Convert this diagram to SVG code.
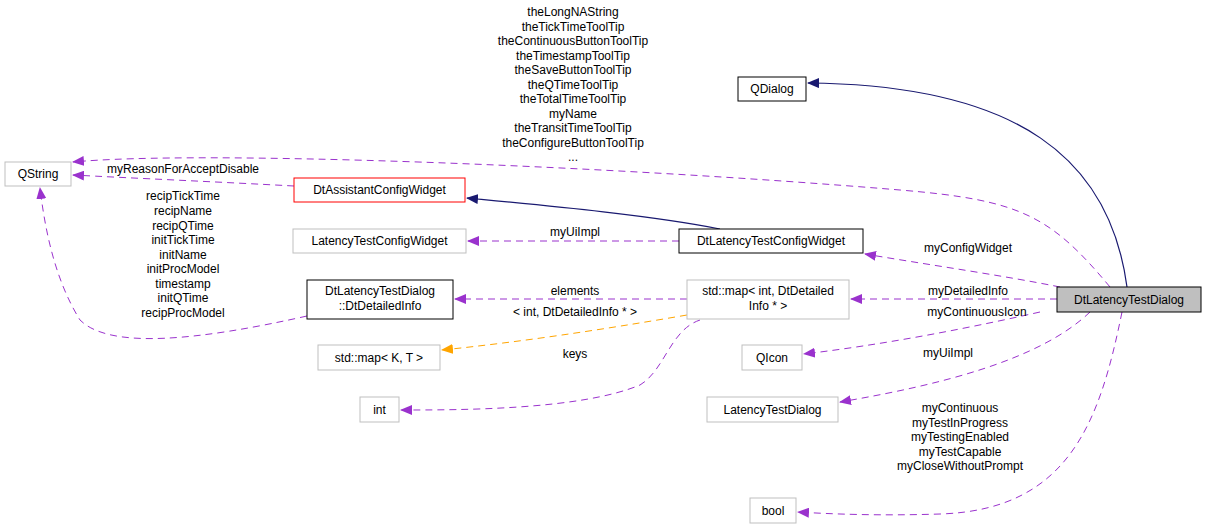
<svg xmlns="http://www.w3.org/2000/svg" width="1208" height="529" viewBox="0 0 1208 529">
<defs>
<style>
text{font-family:"Liberation Sans",Arial,sans-serif;font-size:12px;fill:#000;text-anchor:middle}
.g{fill:#fff;stroke:#bfbfbf;stroke-width:1}
.b{fill:#fff;stroke:#000;stroke-width:1}
.r{fill:#fff;stroke:#ff0000;stroke-width:1}
.p{fill:none;stroke:#9a32cd;stroke-dasharray:7,5;stroke-width:1}
.o{fill:none;stroke:#ffa500;stroke-dasharray:7,5;stroke-width:1}
.n{fill:none;stroke:#191970;stroke-width:1.2}
</style>
<marker id="mp" markerWidth="12" markerHeight="10" refX="11" refY="5" orient="auto" markerUnits="userSpaceOnUse"><path d="M0,0L12,5L0,10z" fill="#9a32cd"/></marker>
<marker id="mo" markerWidth="12" markerHeight="10" refX="11" refY="5" orient="auto" markerUnits="userSpaceOnUse"><path d="M0,0L12,5L0,10z" fill="#ffa500"/></marker>
<marker id="mn" markerWidth="12" markerHeight="10" refX="11" refY="5" orient="auto" markerUnits="userSpaceOnUse"><path d="M0,0L12,5L0,10z" fill="#191970"/></marker>
</defs>
<rect width="1208" height="529" fill="#fff"/>
<g id="edges">
<path class="n" d="M1127,287 C1110,160 1020,85 808,83" marker-end="url(#mn)"/>
<path class="n" d="M720,229 C650,215 540,205 467,198" marker-end="url(#mn)"/>
<path class="p" d="M1110,287 C1050,215 1020,200 900,190 C600,165 200,150 73,162" marker-end="url(#mp)"/>
<path class="p" d="M294,186 C220,182 130,178 73,175" marker-end="url(#mp)"/>
<path class="p" d="M307,316 C200,340 110,350 80,320 C55,280 45,230 40,188" marker-end="url(#mp)"/>
<path class="p" d="M679,241 L468,241" marker-end="url(#mp)"/>
<path class="p" d="M1060,287 C1000,275 930,265 865,254" marker-end="url(#mp)"/>
<path class="p" d="M1057,299 L851,299" marker-end="url(#mp)"/>
<path class="p" d="M687,299 L455,299" marker-end="url(#mp)"/>
<path class="o" d="M687,315 C600,330 520,342 442,350" marker-end="url(#mo)"/>
<path class="p" d="M700,320 C670,330 665,370 640,385 C580,410 460,410 401,410" marker-end="url(#mp)"/>
<path class="p" d="M1040,312 C960,330 880,345 804,354" marker-end="url(#mp)"/>
<path class="p" d="M1090,312 C1040,360 940,385 840,402" marker-end="url(#mp)"/>
<path class="p" d="M1122,312 C1100,420 1070,510 940,514 C880,516 830,514 798,512" marker-end="url(#mp)"/>
</g>
<g id="labels">
<text x="573" y="16">theLongNAString</text>
<text x="573" y="30.5">theTickTimeToolTip</text>
<text x="573" y="45">theContinuousButtonToolTip</text>
<text x="573" y="59.5">theTimestampToolTip</text>
<text x="573" y="74">theSaveButtonToolTip</text>
<text x="573" y="88.5">theQTimeToolTip</text>
<text x="573" y="103">theTotalTimeToolTip</text>
<text x="573" y="117.5">myName</text>
<text x="573" y="132">theTransitTimeToolTip</text>
<text x="573" y="146.5">theConfigureButtonToolTip</text>
<text x="573" y="161">...</text>
<text x="183" y="173">myReasonForAcceptDisable</text>
<text x="183" y="200">recipTickTime</text>
<text x="183" y="215">recipName</text>
<text x="183" y="229.5">recipQTime</text>
<text x="183" y="244">initTickTime</text>
<text x="183" y="258.5">initName</text>
<text x="183" y="273">initProcModel</text>
<text x="183" y="287.5">timestamp</text>
<text x="183" y="302">initQTime</text>
<text x="183" y="316.5">recipProcModel</text>
<text x="575" y="236">myUiImpl</text>
<text x="968" y="252">myConfigWidget</text>
<text x="968" y="295">myDetailedInfo</text>
<text x="575" y="295">elements</text>
<text x="575" y="316">&lt; int, DtDetailedInfo * &gt;</text>
<text x="575" y="358">keys</text>
<text x="977" y="316">myContinuousIcon</text>
<text x="948" y="357">myUiImpl</text>
<text x="960" y="412">myContinuous</text>
<text x="960" y="426.5">myTestInProgress</text>
<text x="960" y="441">myTestingEnabled</text>
<text x="960" y="455.5">myTestCapable</text>
<text x="960" y="470">myCloseWithoutPrompt</text>
</g>
<g id="QString"><rect class="g" x="5" y="162" width="66" height="24"/><text x="38" y="178">QString</text></g>
<g id="QDialog"><rect class="b" x="738" y="77" width="68" height="24"/><text x="772" y="93">QDialog</text></g>
<g id="DtAssistantConfigWidget"><rect class="r" x="294" y="178" width="171" height="24"/><text x="379.5" y="194">DtAssistantConfigWidget</text></g>
<g id="LatencyTestConfigWidget"><rect class="g" x="293" y="229" width="173" height="24"/><text x="379.5" y="245">LatencyTestConfigWidget</text></g>
<g id="DtLatencyTestConfigWidget"><rect class="b" x="679" y="229" width="184" height="24"/><text x="771" y="245">DtLatencyTestConfigWidget</text></g>
<g id="DtDetailedInfo"><rect class="b" x="307" y="280" width="146" height="39"/><text x="380" y="295">DtLatencyTestDialog</text><text x="380" y="310">::DtDetailedInfo</text></g>
<g id="stdmapInt"><rect class="g" x="687" y="280" width="162" height="39"/><text x="768" y="295">std::map&lt; int, DtDetailed</text><text x="768" y="310">Info * &gt;</text></g>
<g id="stdmapKT"><rect class="g" x="318" y="345" width="122" height="25"/><text x="379" y="362">std::map&lt; K, T &gt;</text></g>
<g id="int"><rect class="g" x="360" y="397" width="39" height="25"/><text x="379.5" y="414">int</text></g>
<g id="QIcon"><rect class="g" x="742" y="345" width="60" height="25"/><text x="772" y="362">QIcon</text></g>
<g id="LatencyTestDialog"><rect class="g" x="707" y="397" width="131" height="25"/><text x="772.5" y="414">LatencyTestDialog</text></g>
<g id="bool"><rect class="g" x="750" y="498" width="46" height="25"/><text x="773" y="515">bool</text></g>
<g id="DtLatencyTestDialog"><rect x="1057" y="287" width="144" height="25" fill="#bfbfbf" stroke="#000"/><text x="1129" y="304">DtLatencyTestDialog</text></g>
</svg>
